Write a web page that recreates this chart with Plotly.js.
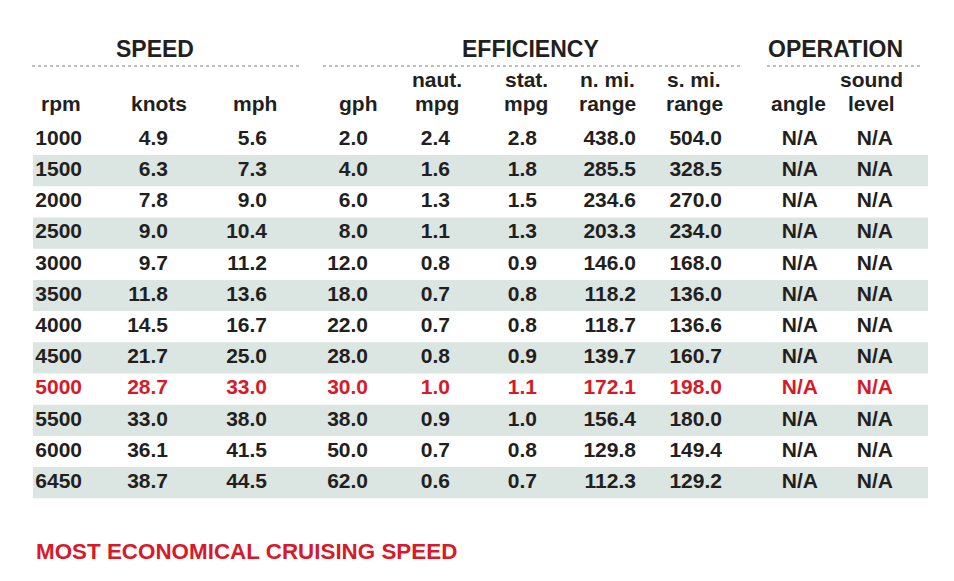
<!DOCTYPE html>
<html>
<head>
<meta charset="utf-8">
<script src="https://cdn.plot.ly/plotly-3.0.1.min.js"></script>
<style>
  html, body { margin: 0; padding: 0; background: #fff; }
  #chart { width: 954px; height: 581px; }
</style>
</head>
<body>
<div id="chart"></div>
<script>
// table values
const rpm = [1000, 1500, 2000, 2500, 3000, 3500, 4000, 4500, 5000, 5500, 6000, 6450];
const knots = [4.9, 6.3, 7.8, 9.0, 9.7, 11.8, 14.5, 21.7, 28.7, 33.0, 36.1, 38.7];
const mph = [5.6, 7.3, 9.0, 10.4, 11.2, 13.6, 16.7, 25.0, 33.0, 38.0, 41.5, 44.5];
const gph = [2.0, 4.0, 6.0, 8.0, 12.0, 18.0, 22.0, 28.0, 30.0, 38.0, 50.0, 62.0];
const nautMpg = [2.4, 1.6, 1.3, 1.1, 0.8, 0.7, 0.7, 0.8, 1.0, 0.9, 0.7, 0.6];
const statMpg = [2.8, 1.8, 1.5, 1.3, 0.9, 0.8, 0.8, 0.9, 1.1, 1.0, 0.8, 0.7];
const nmiRange = [438.0, 285.5, 234.6, 203.3, 146.0, 118.2, 118.7, 139.7, 172.1, 156.4, 129.8, 112.3];
const smiRange = [504.0, 328.5, 270.0, 234.0, 168.0, 136.0, 136.6, 160.7, 198.0, 180.0, 149.4, 129.2];
const angle = rpm.map(() => "N/A");
const soundLevel = rpm.map(() => "N/A");
const bestRpm = 5000;

const groupLabels = ["SPEED", "EFFICIENCY", "OPERATION"];
const colLabelsTop = ["", "", "", "", "naut.", "stat.", "n. mi.", "s. mi.", "", "sound"];
const colLabelsBottom = ["rpm", "knots", "mph", "gph", "mpg", "mpg", "range", "range", "angle", "level"];
const footNote = "MOST ECONOMICAL CRUISING SPEED";

// layout (pixels)
const W = 954, H = 581;
const rowH = 31.2, row0 = 139.5;          // centre of first row
const colRight = [82, 168, 267, 368, 450, 537, 636, 722, 818, 893];
const colHead = [61, 159, 255, 358, 437, 526, 607, 694, 798, 871];
const groupX = [155, 530, 835];
const groupLine = [[32, 300], [323, 742], [767, 923]];
const bandX = [33, 928];

const ink = "#231f20";
const red = "#d71a2a";
const band = "#dbe5e2";
const font = "Liberation Sans, Arial, sans-serif";
const py = p => 1 - p / H;

const rpmCat = rpm.map(String);
const columns = [rpm.map(String), knots, mph, gph, nautMpg, statMpg, nmiRange, smiRange, angle, soundLevel]
  .map(col => col.map(v => typeof v === "number" ? v.toFixed(1) : v));
const rowColors = rpm.map(r => r === bestRpm ? red : ink);

const traces = columns.map((col, j) => ({
  type: "scatter",
  mode: "text",
  x: rpm.map(() => colRight[j]),
  y: rpmCat,
  text: col,
  textposition: "middle left",
  textfont: { family: font, size: 21, weight: "bold", color: rowColors },
  hoverinfo: "skip",
  cliponaxis: false
}));

const shapes = [];
rpm.forEach((r, i) => {
  if (i % 2 === 1) {
    shapes.push({
      type: "rect", layer: "below", xref: "x", yref: "y",
      x0: bandX[0], x1: bandX[1], y0: i - 0.5, y1: i + 0.5,
      fillcolor: band, line: { width: 0 }
    });
  }
});
groupLine.forEach(([a, b]) => {
  shapes.push({
    type: "line", xref: "x", yref: "paper", x0: a, x1: b, y0: py(66), y1: py(66),
    line: { color: "#7f7f7f", width: 1, dash: "dot" }
  });
});

const annotations = [];
const headFont = { family: font, size: 21, weight: "bold", color: ink };
groupLabels.forEach((g, k) => {
  annotations.push({
    text: g, x: groupX[k], y: py(49), xref: "x", yref: "paper",
    xanchor: "center", yanchor: "middle", showarrow: false,
    font: { family: font, size: 23, weight: "bold", color: ink }
  });
});
[[colLabelsTop, 79], [colLabelsBottom, 103.5]].forEach(([labels, yPix]) => {
  labels.forEach((c, j) => {
    if (!c) return;
    annotations.push({
      text: c, x: colHead[j], y: py(yPix), xref: "x", yref: "paper",
      xanchor: "center", yanchor: "middle", showarrow: false, font: headFont
    });
  });
});
annotations.push({
  text: footNote, x: 34, y: py(551), xref: "x", yref: "paper",
  xanchor: "left", yanchor: "middle", showarrow: false,
  font: { family: font, size: 22.4, weight: "bold", color: red }
});

const layout = {
  width: W, height: H,
  margin: { l: 0, r: 0, t: 0, b: 0 },
  paper_bgcolor: "#fff", plot_bgcolor: "#fff",
  showlegend: false,
  xaxis: { range: [0, W], visible: false, fixedrange: true },
  yaxis: {
    type: "category", categoryorder: "array", categoryarray: rpmCat,
    range: [(H - row0) / rowH, -row0 / rowH], visible: false, fixedrange: true
  },
  shapes: shapes,
  annotations: annotations
};

Plotly.newPlot("chart", traces, layout, { displayModeBar: false, staticPlot: true });
</script>
</body>
</html>
